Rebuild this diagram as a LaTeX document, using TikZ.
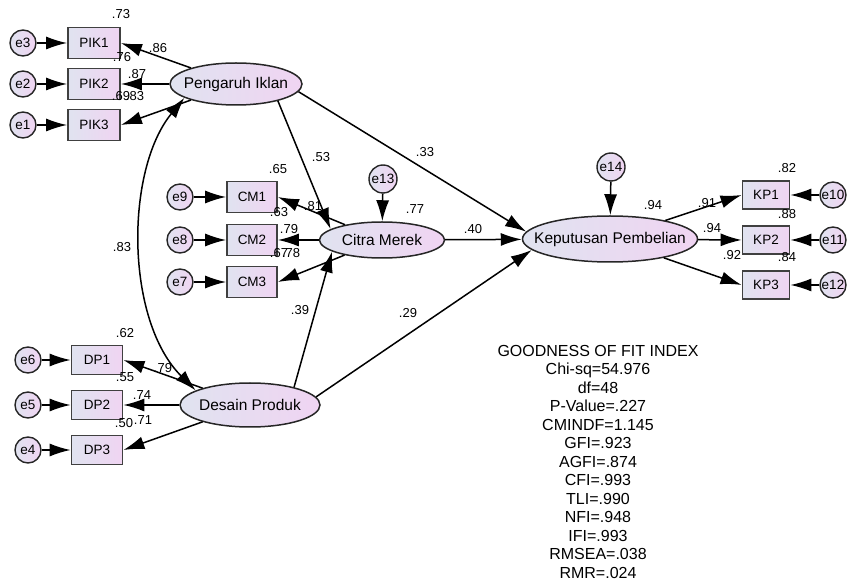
\documentclass[tikz,border=0pt]{standalone}
\usepackage{fontspec}
\setmainfont{Liberation Sans}
\usetikzlibrary{shapes.geometric,arrows.meta}
\definecolor{shA}{RGB}{224,227,240}
\definecolor{shB}{RGB}{240,212,242}
\newcommand{\zw}[1]{\makebox[0pt]{#1}}
\begin{document}
\begin{tikzpicture}[x=1pt,y=-1pt,
 lat/.style={ellipse,draw=black!85,line width=1.5pt,left color=shA,right color=shB,inner sep=0pt,font=\fontsize{15.5}{17}\selectfont},
 obs/.style={rectangle,draw=black!75,line width=1.8pt,left color=shA,right color=shB,inner sep=0pt,minimum width=51pt,minimum height=30pt,font=\fontsize{13.5}{15}\selectfont},
 err/.style={circle,draw=black!85,line width=1.4pt,left color=shA,right color=shB,inner sep=0pt,minimum size=26pt,font=\fontsize{13.5}{15}\selectfont},
 arr/.style={-{Latex[length=21pt,width=13pt]},line width=1.5pt},
 dbl/.style={{Latex[length=21pt,width=13pt]}-{Latex[length=21pt,width=13pt]},line width=1.5pt},
 lab/.style={inner sep=0pt,font=\fontsize{13}{15}\selectfont}]
\useasboundingbox (0,0) rectangle (847,585);
% latent
\node[lat,minimum width=132pt,minimum height=42pt] (pi) at (236,84) {\zw{Pengaruh Iklan}};
\node[lat,minimum width=125pt,minimum height=36pt] (cm) at (382,240) {\zw{Citra Merek}};
\node[lat,minimum width=175pt,minimum height=46pt] (kp) at (610,239) {\zw{Keputusan Pembelian}};
\node[lat,minimum width=140pt,minimum height=44pt] (dp) at (250,405) {\zw{Desain Produk}};
% observed
\node[obs,minimum width=52pt,minimum height=31pt] (pik1) at (94,43) {PIK1};
\node[obs,minimum width=52pt,minimum height=31pt] (pik2) at (94,84) {PIK2};
\node[obs,minimum width=52pt,minimum height=31pt] (pik3) at (94,125) {PIK3};
\node[obs,minimum width=50pt,minimum height=31pt] (cm1) at (252,197) {CM1};
\node[obs,minimum width=50pt,minimum height=31pt] (cm2) at (252,240) {CM2};
\node[obs,minimum width=50pt,minimum height=31pt] (cm3) at (252,282) {CM3};
\node[obs,minimum width=47pt,minimum height=28pt] (kp1) at (766,195) {KP1};
\node[obs,minimum width=47pt,minimum height=28pt] (kp2) at (766,240) {KP2};
\node[obs,minimum width=47pt,minimum height=28pt] (kp3) at (766,285) {KP3};
\node[obs,minimum width=51pt,minimum height=29pt] (dp1) at (97,360) {DP1};
\node[obs,minimum width=51pt,minimum height=29pt] (dp2) at (97,405) {DP2};
\node[obs,minimum width=51pt,minimum height=29pt] (dp3) at (97,450) {DP3};
% errors
\node[err] (e3) at (23,43) {e3};
\node[err] (e2) at (23,84) {e2};
\node[err] (e1) at (23,125) {e1};
\node[err] (e9) at (180,197) {e9};
\node[err] (e8) at (180,240) {e8};
\node[err] (e7) at (180,282) {e7};
\node[err] (e6) at (28,360) {e6};
\node[err] (e5) at (28,405) {e5};
\node[err] (e4) at (28,450) {e4};
\node[err,minimum size=28pt] (e13) at (383,179) {e13};
\node[err,minimum size=28pt] (e14) at (611,167) {e14};
\node[err] (e10) at (833,195) {e10};
\node[err] (e11) at (833,240) {e11};
\node[err] (e12) at (833,285) {e12};
% error arrows
\foreach \e/\o in {e3/pik1,e2/pik2,e1/pik3,e9/cm1,e8/cm2,e7/cm3,e6/dp1,e5/dp2,e4/dp3,e10/kp1,e11/kp2,e12/kp3,e13/cm,e14/kp}
  \draw[arr] (\e) -- (\o);
% loadings
\foreach \o in {pik1,pik2,pik3} \draw[arr] (pi) -- (\o.east);
\foreach \o in {cm1,cm2,cm3} \draw[arr] (cm) -- (\o.east);
\foreach \o in {dp1,dp2,dp3} \draw[arr] (dp) -- (\o.east);
\foreach \o in {kp1,kp2,kp3} \draw[arr] (kp) -- (\o.west);
% structural
\draw[arr] (pi.-22) -- (cm.168);
\draw[arr] (pi.-7) -- (kp.175);
\draw[arr] (dp.22) -- (cm.-167);
\draw[arr] (dp.7) -- (kp.-172);
\draw[arr] (cm) -- (kp);
\draw[dbl] (pi.195) .. controls (125,170) and (125,320) .. (dp.165);
% labels
\node[lab] (l1) at (121,14) {.73};
\node[lab] (l2) at (158,48) {.86};
\node[lab] (l3) at (122,57) {.76};
\node[lab] (l4) at (137,74) {.87};
\node[lab] (l5) at (121,96) {.69};
\node[lab] (l6) at (135,96) {.83};
\node[lab] (l7) at (278,169) {.65};
\node[lab] (l8) at (321,157) {.53};
\node[lab] (l9) at (425,152) {.33};
\node[lab] (l10) at (313,206) {.81};
\node[lab] (l11) at (279,212) {.63};
\node[lab] (l12) at (289,229) {.79};
\node[lab] (l13) at (279,253) {.67};
\node[lab] (l14) at (291,253) {.78};
\node[lab] (l15) at (415,209) {.77};
\node[lab] (l16) at (473,229) {.40};
\node[lab] (l17) at (653,205) {.94};
\node[lab] (l18) at (787,168) {.82};
\node[lab] (l19) at (707,203) {.91};
\node[lab] (l20) at (787,214) {.88};
\node[lab] (l21) at (712,228) {.94};
\node[lab] (l22) at (732,255) {.92};
\node[lab] (l23) at (787,257) {.84};
\node[lab] (l24) at (125,333) {.62};
\node[lab] (l25) at (163,368) {.79};
\node[lab] (l26) at (125,377) {.55};
\node[lab] (l27) at (142,395) {.74};
\node[lab] (l28) at (124,423) {.50};
\node[lab] (l29) at (143,420) {.71};
\node[lab] (l30) at (122,247) {.83};
\node[lab] (l31) at (300,310) {.39};
\node[lab] (l32) at (408,313) {.29};
% fit
\node[align=center,inner sep=0pt,anchor=north,font=\fontsize{16}{18.5}\selectfont] (gof) at (598,345)
{GOODNESS OF FIT INDEX\\Chi-sq=54.976\\df=48\\P-Value=.227\\CMINDF=1.145\\GFI=.923\\AGFI=.874\\CFI=.993\\TLI=.990\\NFI=.948\\IFI=.993\\RMSEA=.038\\RMR=.024};
\end{tikzpicture}
\end{document}
